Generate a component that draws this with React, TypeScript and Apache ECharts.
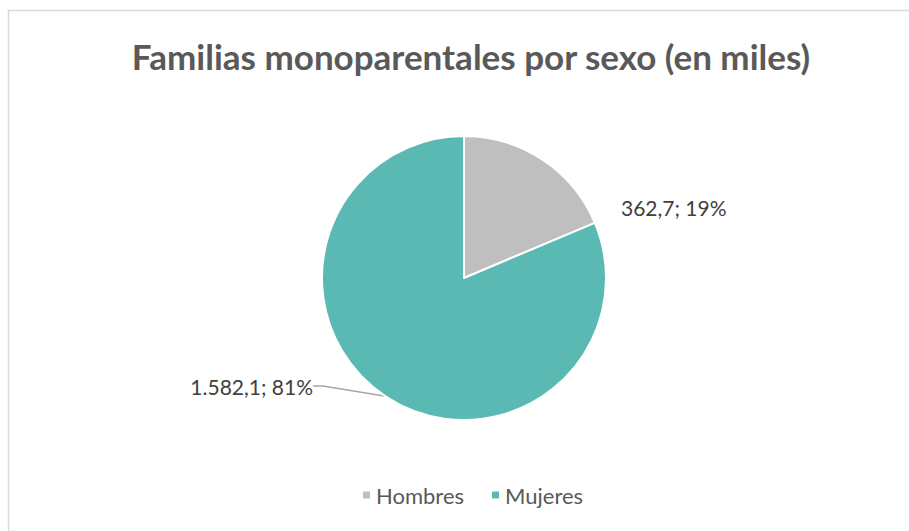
import React, { useEffect, useRef } from "react";
import * as echarts from "echarts";

const categories = ["Hombres", "Mujeres"];
const values = [362.7, 1582.1];
const percentLabels = ["19%", "81%"];
const valueLabels = ["362,7", "1.582,1"];
const colors = ["#BFBFBF", "#5BB9B3"];

export default function App() {
  const ref = useRef<HTMLDivElement>(null);
  useEffect(() => {
    if (!ref.current) return;
    const chart = echarts.init(ref.current, undefined, { renderer: "svg" });
    chart.setOption({
      animation: false,
      backgroundColor: "#ffffff",
      title: {
        text: "Familias monoparentales por sexo (en miles)",
        left: 466,
        textAlign: "center",
        top: 33,
        textStyle: {
          fontFamily: "Lato",
          fontWeight: "bold",
          fontSize: 35,
          color: "#595959",
        },
      },
      graphic: [
        {
          type: "rect",
          shape: { x: 8.5, y: 10.5, width: 920, height: 540 },
          style: { fill: "none", stroke: "#D9D9D9", lineWidth: 1.5 },
          silent: true,
        },
      ],
      legend: {
        bottom: 20,
        left: 356,
        itemWidth: 9,
        itemHeight: 9,
        itemGap: 26,
        icon: "rect",
        textStyle: { fontFamily: "Lato", fontSize: 22, color: "#595959" },
        data: categories,
      },
      series: [
        {
          type: "pie",
          center: [464, 278],
          radius: 142,
          startAngle: 90,
          clockwise: true,
          itemStyle: { borderColor: "#ffffff", borderWidth: 2 },
          label: {
            show: true,
            position: "outside",
            fontFamily: "Lato",
            fontSize: 21,
            color: "#404040",
            formatter: (p: any) => `${valueLabels[p.dataIndex]}; ${percentLabels[p.dataIndex]}`,
          },
          labelLine: {
            show: true,
            length: 20,
            length2: 10,
            lineStyle: { color: "#A6A6A6", width: 1.5 },
          },
          labelLayout: (params: any) => {
            if (params.dataIndex === 0) {
              return { x: 621, y: 207, align: "left", verticalAlign: "middle" };
            }
            return { x: 313, y: 386, align: "right", verticalAlign: "middle" };
          },
          data: categories.map((c, i) => ({
            name: c,
            value: values[i],
            itemStyle: { color: colors[i] },
            labelLine: i === 0 ? { show: false } : undefined,
            label: i === 1 ? { padding: [0, 0, 10, 0] } : undefined,
          })),
        },
      ],
    });
    return () => chart.dispose();
  }, []);
  return (
    <div
      ref={ref}
      style={{ position: "fixed", left: 0, top: 0, width: 909, height: 531 }}
    />
  );
}
